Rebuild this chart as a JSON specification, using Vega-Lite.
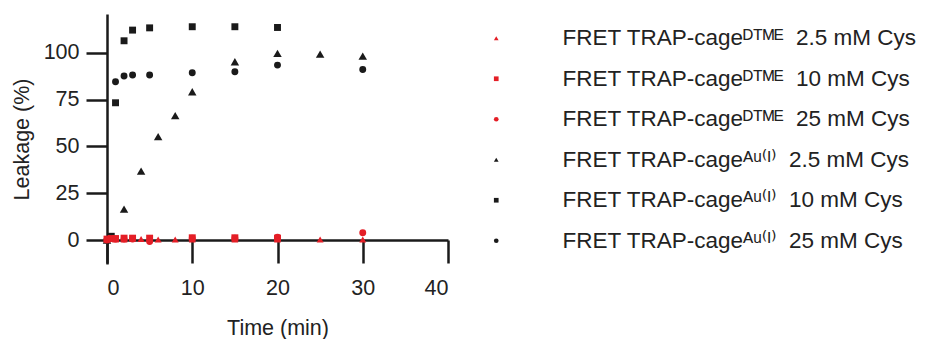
{
  "$schema": "https://vega.github.io/schema/vega-lite/v6.json",
  "width": 341,
  "height": 250,
  "autosize": {"type": "none"},
  "padding": {"left": 107, "top": 14, "right": 480, "bottom": 75},
  "background": "white",
  "config": {
    "font": "Liberation Sans",
    "view": {"stroke": null},
    "axis": {
      "grid": false,
      "domainColor": "#1a1a1a",
      "domainWidth": 2.5,
      "tickColor": "#1a1a1a",
      "tickWidth": 2.5,
      "labelFont": "Liberation Sans",
      "labelFontSize": 21.5,
      "labelColor": "#222222",
      "titleFont": "Liberation Sans",
      "titleFontSize": 21.5,
      "titleFontWeight": "normal",
      "titleColor": "#222222"
    }
  },
  "data": {
    "values": [
      {"t": 0, "v": 0, "s": "A2.5"},
      {"t": 2, "v": 16.5, "s": "A2.5"},
      {"t": 4, "v": 36.8, "s": "A2.5"},
      {"t": 6, "v": 55.2, "s": "A2.5"},
      {"t": 8, "v": 66.4, "s": "A2.5"},
      {"t": 10, "v": 79.2, "s": "A2.5"},
      {"t": 15, "v": 95.2, "s": "A2.5"},
      {"t": 20, "v": 99.7, "s": "A2.5"},
      {"t": 25, "v": 99.3, "s": "A2.5"},
      {"t": 30, "v": 98.2, "s": "A2.5"},
      {"t": 0.5, "v": 2, "s": "A10"},
      {"t": 1, "v": 73.3, "s": "A10"},
      {"t": 2, "v": 106.4, "s": "A10"},
      {"t": 3, "v": 112.1, "s": "A10"},
      {"t": 5, "v": 113.3, "s": "A10"},
      {"t": 10, "v": 113.9, "s": "A10"},
      {"t": 15, "v": 113.9, "s": "A10"},
      {"t": 20, "v": 113.5, "s": "A10"},
      {"t": 0, "v": 0, "s": "A25"},
      {"t": 1, "v": 84.5, "s": "A25"},
      {"t": 2, "v": 87.6, "s": "A25"},
      {"t": 3, "v": 88.1, "s": "A25"},
      {"t": 5, "v": 88.1, "s": "A25"},
      {"t": 10, "v": 89.3, "s": "A25"},
      {"t": 15, "v": 89.9, "s": "A25"},
      {"t": 20, "v": 93.4, "s": "A25"},
      {"t": 30, "v": 91.1, "s": "A25"},
      {"t": 0, "v": 0.3, "s": "D2.5"},
      {"t": 1, "v": 0.3, "s": "D2.5"},
      {"t": 2, "v": 0.3, "s": "D2.5"},
      {"t": 4, "v": 0.5, "s": "D2.5"},
      {"t": 6, "v": 0.3, "s": "D2.5"},
      {"t": 8, "v": 0.3, "s": "D2.5"},
      {"t": 10, "v": 0.3, "s": "D2.5"},
      {"t": 15, "v": 0.3, "s": "D2.5"},
      {"t": 20, "v": 0.3, "s": "D2.5"},
      {"t": 25, "v": 0.3, "s": "D2.5"},
      {"t": 30, "v": 0.3, "s": "D2.5"},
      {"t": 0, "v": 0.5, "s": "D10"},
      {"t": 0.5, "v": 0.8, "s": "D10"},
      {"t": 1, "v": 0.8, "s": "D10"},
      {"t": 2, "v": 1, "s": "D10"},
      {"t": 3, "v": 1, "s": "D10"},
      {"t": 5, "v": 1, "s": "D10"},
      {"t": 10, "v": 1.2, "s": "D10"},
      {"t": 15, "v": 1.2, "s": "D10"},
      {"t": 20, "v": 1, "s": "D10"},
      {"t": 0, "v": 0, "s": "D25"},
      {"t": 1, "v": 0.5, "s": "D25"},
      {"t": 2, "v": 0.5, "s": "D25"},
      {"t": 3, "v": 0.5, "s": "D25"},
      {"t": 5, "v": -0.8, "s": "D25"},
      {"t": 10, "v": 1, "s": "D25"},
      {"t": 15, "v": 1, "s": "D25"},
      {"t": 20, "v": 1.5, "s": "D25"},
      {"t": 30, "v": 3.9, "s": "D25"}
    ]
  },
  "encoding": {
    "x": {
      "field": "t",
      "type": "quantitative",
      "scale": {"domain": [0, 40], "nice": false, "zero": false},
      "axis": {
        "title": "Time (min)",
        "values": [0, 10, 20, 30, 40],
        "offset": -24,
        "tickSize": 23,
        "labelPadding": 14,
        "titlePadding": 19
      }
    },
    "y": {
      "field": "v",
      "type": "quantitative",
      "scale": {"domain": [-12.8, 120.7], "nice": false, "zero": false},
      "axis": {
        "title": "Leakage (%)",
        "values": [0, 25, 50, 75, 100],
        "tickSize": 21,
        "labelPadding": 7,
        "titlePadding": 10
      }
    },
    "color": {
      "field": "s",
      "type": "nominal",
      "scale": {
        "domain": ["D2.5", "D10", "D25", "A2.5", "A10", "A25"],
        "range": ["#e41e26", "#e41e26", "#e41e26", "#1a1a1a", "#1a1a1a", "#1a1a1a"]
      },
      "legend": {
        "title": null,
        "orient": "none",
        "legendX": 378,
        "legendY": 13,
        "padding": 0,
        "symbolSize": 22,
        "symbolType": "circle",
        "labelOffset": 55,
        "labelFont": "Liberation Sans, DejaVu Sans",
        "labelFontSize": 22.5,
        "labelColor": "#222222",
        "labelLimit": 500,
        "rowPadding": 17.5,
        "labelExpr": "{'D2.5': 'FRET TRAP-cageᴰᵀᴹᴱ\u00a0\u00a02.5 mM Cys', 'D10': 'FRET TRAP-cageᴰᵀᴹᴱ\u00a0\u00a010 mM Cys', 'D25': 'FRET TRAP-cageᴰᵀᴹᴱ\u00a0\u00a025 mM Cys', 'A2.5': 'FRET TRAP-cageᴬᵘ⁽ᴵ⁾\u00a0\u00a02.5 mM Cys', 'A10': 'FRET TRAP-cageᴬᵘ⁽ᴵ⁾\u00a0\u00a010 mM Cys', 'A25': 'FRET TRAP-cageᴬᵘ⁽ᴵ⁾\u00a0\u00a025 mM Cys'}[datum.label]"
      }
    },
    "shape": {
      "field": "s",
      "type": "nominal",
      "scale": {
        "domain": ["D2.5", "D10", "D25", "A2.5", "A10", "A25"],
        "range": ["triangle-up", "square", "circle", "triangle-up", "square", "circle"]
      }
    }
  },
  "layer": [
    {
      "transform": [{"filter": "datum.s === 'A2.5'"}],
      "mark": {"type": "point", "filled": true, "opacity": 1, "size": 72}
    },
    {
      "transform": [{"filter": "datum.s !== 'A2.5'"}],
      "mark": {"type": "point", "filled": true, "opacity": 1, "size": 48}
    }
  ]
}
